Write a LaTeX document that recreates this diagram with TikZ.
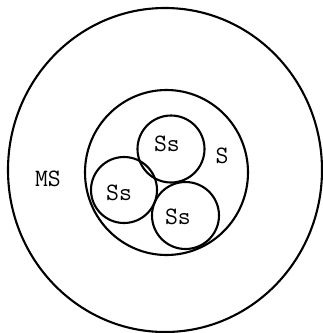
\documentclass[tikz,border=0pt]{standalone}
\begin{document}
\begin{tikzpicture}[x=1pt,y=-1pt,
  ring/.style={draw=black,line width=2.1pt},
  lbl/.style={font=\ttfamily\fontsize{25}{25}\selectfont,inner sep=0pt}]
\useasboundingbox (0,0) rectangle (323,333);
\draw[ring] (165,170) ellipse [x radius=157, y radius=162];
\draw[ring] (166.5,172.5) ellipse [x radius=81.5, y radius=82.5];
\draw[ring] (171,149) circle [radius=33.5];
\draw[ring] (124,190) circle [radius=33];
\draw[ring] (185.5,215.5) circle [radius=33.5];
\node[lbl] (ms) at (48,179) {MS};
\node[lbl] (s) at (222,156) {S};
\node[lbl] (ss1) at (167,144) {Ss};
\node[lbl] (ss2) at (119,193) {Ss};
\node[lbl] (ss3) at (178,217) {Ss};
\end{tikzpicture}
\end{document}
